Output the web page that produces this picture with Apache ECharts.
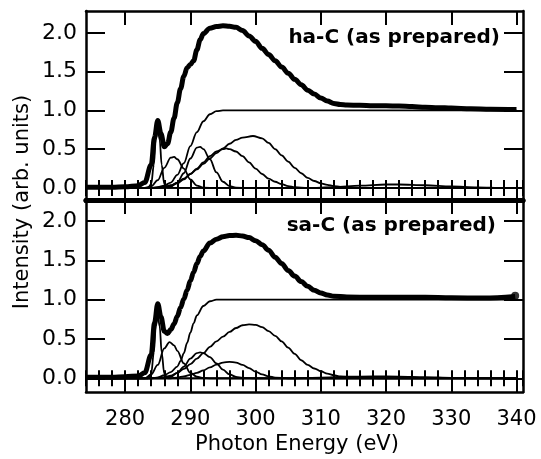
<!DOCTYPE html>
<html>
<head>
<meta charset="utf-8">
<script src="https://cdn.jsdelivr.net/npm/echarts@6/dist/echarts.min.js"></script>
<style>html,body{margin:0;padding:0;background:#fff}#c{width:541px;height:459px}</style>
</head>
<body>
<div id="c"></div>
<script>
// ---------- data ----------
var xMajorTicks = [280, 290, 300, 310, 320, 330, 340];
var yTicks = [0, 0.5, 1.0, 1.5, 2.0];
var panelLabels = ['ha-C (as prepared)', 'sa-C (as prepared)'];
var xTitle = 'Photon Energy (eV)';
var yTitle = 'Intensity (arb. units)';

// upper panel: ha-C
var haTotal = [[274,0.01],[278,0.01],[280,0.015],[282,0.03],[283,0.07],[284,0.3],[284.5,0.65],[285,0.87],[285.5,0.7],[286,0.53],[286.5,0.57],[287,0.72],[287.5,0.9],[288,1.1],[288.5,1.28],[289,1.44],[289.5,1.55],[290,1.59],[290.5,1.64],[291,1.78],[291.5,1.91],[292,1.99],[293,2.06],[294,2.08],[295,2.09],[296,2.085],[297,2.07],[298,2.03],[299,1.96],[300,1.89],[301,1.8],[302,1.72],[303,1.64],[304,1.56],[305,1.48],[306,1.4],[307,1.33],[308,1.26],[309,1.21],[310,1.16],[311,1.12],[312,1.09],[313,1.075],[314,1.07],[316,1.065],[318,1.06],[320,1.06],[322,1.055],[324,1.05],[326,1.04],[328,1.035],[330,1.03],[333,1.02],[336,1.015],[340,1.01]];
var haStep = [[274,0],[284,0],[285,0.01],[286,0.03],[287,0.07],[288,0.17],[289,0.32],[290,0.54],[291,0.72],[292,0.86],[293,0.95],[294,0.99],[295,1.0],[300,1.0],[340,1.0]];
var haPeak1 = [[274,0],[283.5,0],[284,0.05],[284.4,0.3],[284.7,0.62],[285,0.77],[285.3,0.62],[285.6,0.3],[286,0.05],[286.5,0],[340,0]];
var haPeak2 = [[274,0],[283,0],[284,0.02],[285,0.1],[286,0.26],[287,0.39],[287.5,0.4],[288,0.37],[289,0.25],[290,0.11],[291,0.03],[292,0.005],[294,0],[340,0]];
var haPeak3 = [[274,0],[286,0],[287,0.02],[288,0.07],[289,0.19],[290,0.38],[291,0.52],[291.5,0.53],[292,0.5],[293,0.37],[294,0.2],[295,0.08],[296,0.025],[297,0.005],[299,0],[340,0]];
var haPeak4 = [[274,0],[284,0],[286,0.01],[287,0.03],[288,0.06],[289,0.11],[290,0.18],[291,0.25],[292,0.33],[293,0.41],[294,0.47],[295,0.5],[295.5,0.51],[296,0.5],[297,0.47],[298,0.41],[299,0.33],[300,0.25],[301,0.18],[302,0.12],[303,0.08],[304,0.05],[305,0.025],[306,0.01],[308,0],[340,0]];
var haPeak5 = [[274,0],[283,0],[285,0.005],[286,0.015],[287,0.035],[288,0.07],[289,0.12],[290,0.18],[291,0.24],[292,0.31],[293,0.38],[294,0.45],[295,0.51],[296,0.57],[297,0.62],[298,0.65],[299.6,0.67],[301,0.64],[302,0.58],[303,0.5],[304,0.42],[305,0.34],[306,0.26],[307,0.19],[308,0.13],[309,0.09],[310,0.06],[311,0.04],[312,0.025],[313,0.015],[315,0.005],[317,0],[340,0]];
var haPeak6 = [[274,0],[308,0],[312,0.01],[316,0.03],[320,0.045],[322,0.045],[326,0.035],[330,0.02],[334,0.008],[338,0],[340,0]];

// lower panel: sa-C
var saTotal = [[274,0.015],[278,0.015],[280,0.02],[282,0.03],[283,0.07],[284,0.3],[284.5,0.7],[285,0.95],[285.5,0.78],[286,0.6],[286.5,0.57],[287,0.62],[287.5,0.69],[288,0.79],[288.5,0.9],[289,1.01],[289.5,1.12],[290,1.24],[290.5,1.35],[291,1.46],[291.5,1.55],[292,1.62],[293,1.72],[294,1.77],[295,1.8],[296,1.815],[297,1.82],[298,1.81],[299,1.79],[300,1.75],[301,1.7],[302,1.63],[303,1.54],[304,1.46],[305,1.37],[306,1.3],[307,1.23],[308,1.17],[309,1.12],[310,1.085],[311,1.06],[312,1.045],[314,1.035],[318,1.03],[322,1.03],[326,1.03],[330,1.025],[335,1.02],[339.8,1.04]];
var saEndDot = [[339.8,1.05]];
var saStep = [[274,0],[284,0],[285,0.01],[286,0.04],[287,0.08],[288,0.15],[288.5,0.22],[289,0.32],[289.5,0.45],[290,0.58],[290.5,0.7],[291,0.8],[292,0.92],[293,0.98],[294,1.0],[300,1.0],[340,1.0]];
var saPeak1 = [[274,0],[283.5,0],[284,0.06],[284.4,0.33],[284.7,0.66],[285,0.8],[285.3,0.66],[285.6,0.33],[286,0.06],[286.5,0],[340,0]];
var saPeak2 = [[274,0],[283,0],[284,0.05],[285,0.17],[286,0.38],[286.8,0.46],[287.5,0.42],[288,0.35],[289,0.19],[290,0.07],[291,0.02],[292,0.004],[293,0],[340,0]];
var saPeak3 = [[274,0],[286,0],[287,0.02],[288,0.07],[289,0.15],[290,0.25],[291,0.32],[291.5,0.33],[292,0.32],[293,0.27],[294,0.19],[295,0.11],[296,0.05],[297,0.018],[298,0.005],[300,0],[340,0]];
var saPeak4 = [[274,0],[287,0],[288,0.01],[289,0.025],[290,0.045],[291,0.07],[292,0.1],[293,0.14],[294,0.175],[295,0.2],[296,0.21],[297,0.2],[298,0.17],[299,0.13],[300,0.085],[301,0.05],[302,0.025],[303,0.01],[305,0],[340,0]];
var saPeak5 = [[274,0],[284,0],[286,0.015],[287,0.035],[288,0.07],[289,0.12],[290,0.18],[291,0.25],[292,0.32],[293,0.4],[294,0.47],[295,0.53],[296,0.59],[297,0.64],[298,0.675],[299,0.685],[300,0.68],[301,0.65],[302,0.6],[303,0.54],[304,0.47],[305,0.39],[306,0.31],[307,0.23],[308,0.17],[309,0.125],[310,0.09],[311,0.06],[312,0.04],[313,0.025],[315,0.01],[317,0.003],[319,0],[340,0]];
var saPeak6 = [[274,0],[306,0],[310,0.01],[314,0.02],[318,0.025],[322,0.022],[326,0.015],[330,0.006],[334,0],[340,0]];

// ---------- chart ----------
var FONT = 'DejaVu Sans';
var chart = echarts.init(document.getElementById('c'), null, {renderer: 'canvas'});

var grids = [
  {left: 86, top: 11, width: 437, height: 189, show: false},
  {left: 86, top: 200, width: 437, height: 192, show: false}
];
var yRanges = [[-0.155, 2.281], [-0.174, 2.268]];

function xAxisPair(gridIndex, position, withLabels) {
  var lw = 2.5;
  var isDivide = (position === 'top' && gridIndex === 1) || (position === 'bottom' && gridIndex === 0);
  return [
    {type: 'value', gridIndex: gridIndex, position: position, min: 274, max: 341,
     axisLine: {show: true, onZero: false, lineStyle: {color: '#000', width: isDivide ? 5 : lw}},
     axisTick: {show: true, inside: true, length: 14, lineStyle: {color: '#000', width: 2}, customValues: xMajorTicks},
     axisLabel: withLabels ? {show: true, customValues: xMajorTicks, margin: 17, color: '#000', fontFamily: FONT, fontSize: 21} : {show: false},
     splitLine: {show: false}},
    {type: 'value', gridIndex: gridIndex, position: position, min: 274, max: 341, interval: 2,
     axisLine: {show: false},
     axisTick: {show: true, inside: true, length: 8, lineStyle: {color: '#000', width: 2}},
     axisLabel: {show: false}, splitLine: {show: false}}
  ];
}
var xAxes = [].concat(
  xAxisPair(0, 'bottom', false), xAxisPair(0, 'top', false),
  xAxisPair(1, 'bottom', true), xAxisPair(1, 'top', false)
);

function yAxisFor(gridIndex, position) {
  var r = yRanges[gridIndex];
  return {type: 'value', gridIndex: gridIndex, position: position, min: r[0], max: r[1],
    axisLine: {show: true, onZero: false, lineStyle: {color: '#000', width: 2.5}},
    axisTick: {show: true, inside: true, length: 19, lineStyle: {color: '#000', width: 2}, customValues: yTicks},
    axisLabel: position === 'left' ? {show: true, customValues: yTicks, margin: 9, color: '#000', fontFamily: FONT, fontSize: 22,
      formatter: function (v) { return v.toFixed(1); }} : {show: false},
    splitLine: {show: false}};
}
var yAxes = [yAxisFor(0, 'left'), yAxisFor(0, 'right'), yAxisFor(1, 'left'), yAxisFor(1, 'right')];

function line(data, xi, yi, width) {
  return {type: 'line', data: data, xAxisIndex: xi, yAxisIndex: yi, symbol: 'none', smooth: 0.35,
    smoothMonotone: 'x', lineStyle: {color: '#000', width: width}, z: width > 3 ? 5 : 3, silent: true};
}
var series = [];
[haPeak1, haPeak2, haPeak3, haPeak4, haPeak5, haPeak6, haStep].forEach(function (d) { series.push(line(d, 0, 0, 1.8)); });
series.push(line(haTotal, 0, 0, 5));
[saPeak1, saPeak2, saPeak3, saPeak4, saPeak5, saPeak6, saStep].forEach(function (d) { series.push(line(d, 4, 2, 1.8)); });
series.push(line(saTotal, 4, 2, 5));
series.push({type: 'scatter', data: saEndDot, xAxisIndex: 4, yAxisIndex: 2, symbol: 'circle', symbolSize: 8,
  itemStyle: {color: '#000'}, z: 6, silent: true});

var option = {
  animation: false,
  backgroundColor: '#fff',
  grid: grids,
  xAxis: xAxes,
  yAxis: yAxes,
  series: series,
  graphic: [
    {type: 'text', x: 23, y: 202, rotation: Math.PI / 2,
     style: {text: yTitle, fill: '#000', font: '21px "' + FONT + '"', align: 'center', verticalAlign: 'middle'}},
    {type: 'text', x: 297, y: 445,
     style: {text: xTitle, fill: '#000', font: '21px "' + FONT + '"', align: 'center', verticalAlign: 'middle'}},
    {type: 'text', x: 500, y: 38,
     style: {text: panelLabels[0], fill: '#000', font: 'bold 20px "' + FONT + '"', align: 'right', verticalAlign: 'middle'}},
    {type: 'text', x: 496, y: 226,
     style: {text: panelLabels[1], fill: '#000', font: 'bold 20px "' + FONT + '"', align: 'right', verticalAlign: 'middle'}}
  ]
};
chart.setOption(option);
</script>
</body>
</html>
